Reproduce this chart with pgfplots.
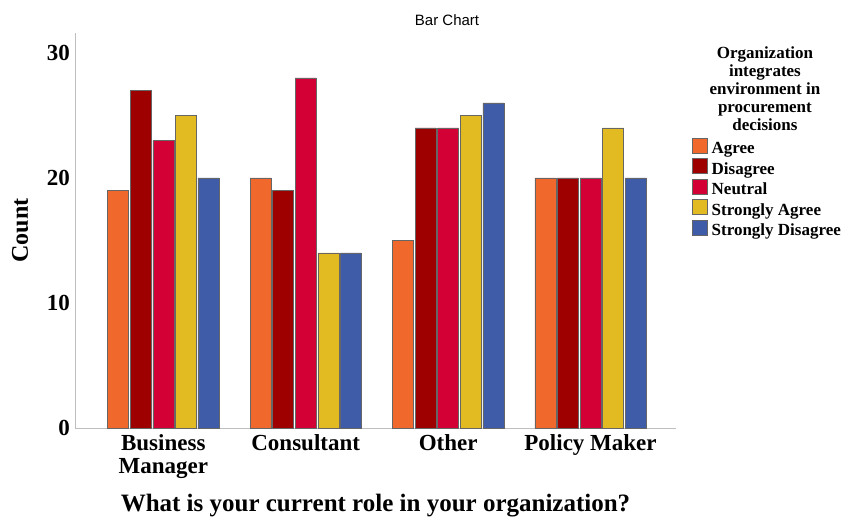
\documentclass[border=0pt]{standalone}
\usepackage{fontspec}
\setmainfont{Liberation Serif}
\newfontfamily\titlefont{Liberation Sans}
\usepackage{pgfplots}
\pgfplotsset{compat=1.18}

\definecolor{cAgree}{RGB}{240,104,44}
\definecolor{cDisagree}{RGB}{158,0,0}
\definecolor{cNeutral}{RGB}{210,0,52}
\definecolor{cSAgree}{RGB}{226,186,34}
\definecolor{cSDisagree}{RGB}{62,92,168}
\definecolor{axisgray}{RGB}{190,190,190}

\begin{document}
\begin{tikzpicture}
\begin{axis}[
    scale only axis,
    width=601pt, height=395pt,
    ybar=1.6pt,
    bar width=21pt,
    xmin=-0.62, xmax=3.6,
    ymin=0, ymax=31.6,
    xtick=data,
    xticklabels={{Business\\Manager}, Consultant, Other, Policy Maker},
    ytick={0,10,20,30},
    axis lines*=left,
    axis line style={axisgray, line width=0.8pt},
    major tick length=0pt,
    /pgf/number format/assume math mode=true,
    ticklabel style={font=\fontsize{23}{23}\selectfont\bfseries},
    xticklabel style={align=center, inner sep=0pt, yshift=-6pt},
    yticklabel style={inner sep=0pt, xshift=-5pt},
    ylabel={Count},
    ylabel style={at={(axis description cs:-0.0915,0.5)}, anchor=center,
        font=\fontsize{24}{26}\selectfont\bfseries},
    xlabel={What is your current role in your organization?},
    xlabel style={at={(axis description cs:0.5,-0.196)}, anchor=center,
        font=\fontsize{25}{27}\selectfont\bfseries},
    every axis plot/.append style={draw=gray!80!black, line width=0.5pt},
    legend style={draw=none, fill=none, inner sep=0pt,
        at={(axis description cs:1.0266,0.735)}, anchor=north west,
        row sep=0pt,
        nodes={inner sep=0pt, text height=12pt, text depth=4.5pt,
            font=\fontsize{17}{18}\selectfont\bfseries},
        /tikz/every odd column/.append style={column sep=4pt}},
    legend cell align=left,
    legend image code/.code={\draw[#1] (0pt,-3pt) rectangle (15pt,12pt);},
    clip=false,
]
\addplot[fill=cAgree] coordinates {(0,19) (1,20) (2,15) (3,20)};
\addplot[fill=cDisagree] coordinates {(0,27) (1,19) (2,24) (3,20)};
\addplot[fill=cNeutral] coordinates {(0,23) (1,28) (2,24) (3,20)};
\addplot[fill=cSAgree] coordinates {(0,25) (1,14) (2,25) (3,24)};
\addplot[fill=cSDisagree] coordinates {(0,20) (1,14) (2,26) (3,20)};
\legend{Agree, Disagree, Neutral, Strongly Agree, Strongly Disagree}
\node[align=center, font=\fontsize{17}{18}\selectfont\bfseries]
    at (axis description cs:1.148,0.858)
    {Organization\\integrates\\environment in\\procurement\\decisions};
\node[font=\titlefont\fontsize{15}{16}\selectfont]
    at (axis description cs:0.619,1.033) {Bar Chart};
\end{axis}
\path[use as bounding box] (-75pt,-92pt) rectangle (772pt,428pt);
\end{tikzpicture}
\end{document}
